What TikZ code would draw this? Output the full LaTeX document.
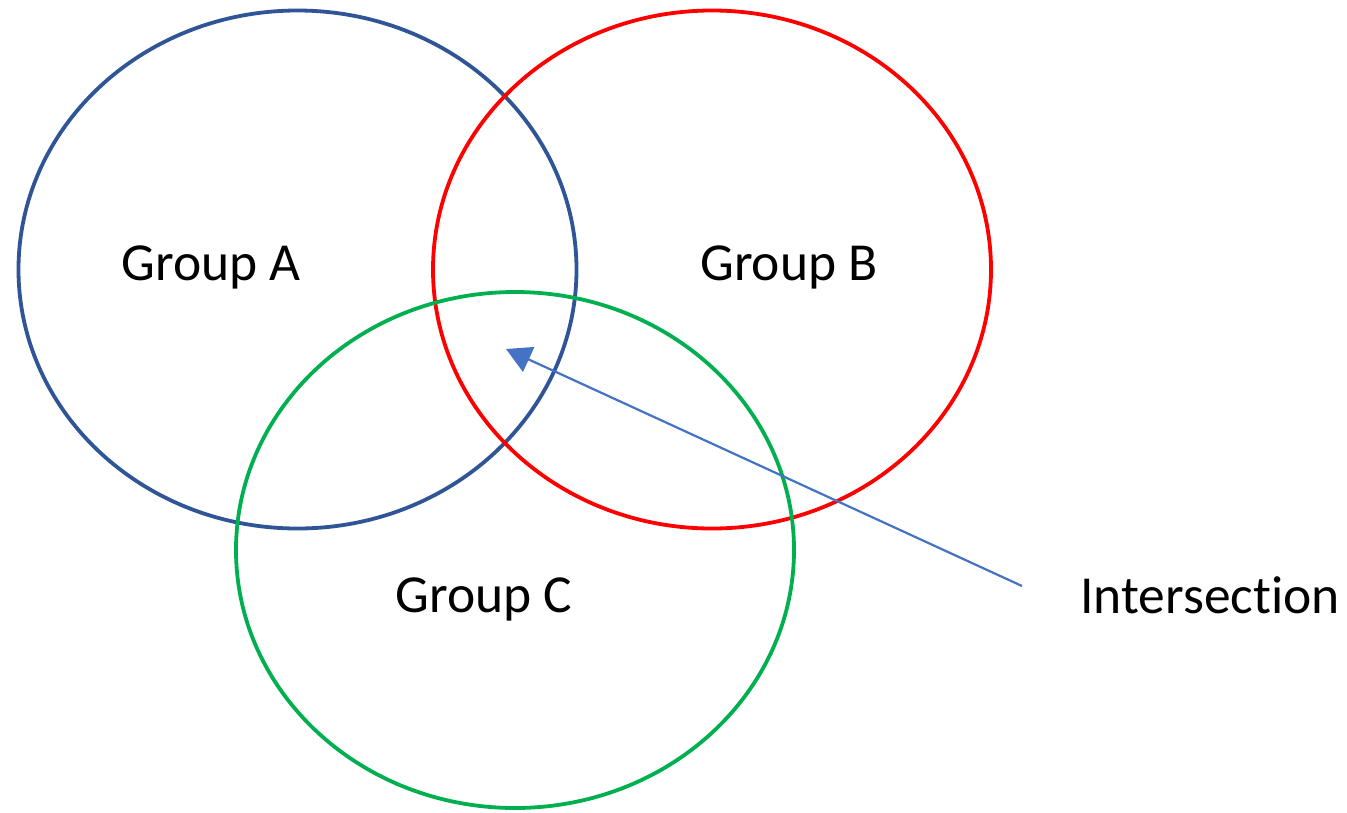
\documentclass[tikz,border=0pt]{standalone}
\usepackage{fontspec}
\setmainfont{Carlito}[RawFeature={-liga;-clig;-calt;-dlig}]
\usetikzlibrary{arrows.meta,shapes.geometric}
\definecolor{cblue}{HTML}{2F5597}
\definecolor{cred}{HTML}{FF0000}
\definecolor{cgreen}{HTML}{00B050}
\definecolor{carrow}{HTML}{4472C4}
\tikzset{
  setring/.style={ellipse, draw, line width=3.8pt, inner sep=0pt, minimum width=558pt, minimum height=518pt},
  lbl/.style={anchor=base, inner sep=0pt, font=\fontsize{53.5}{60}\selectfont},
  pointer/.style={draw=carrow, line width=2.2pt, -{Triangle[length=25pt,width=27pt]}}
}
\begin{document}
\begin{tikzpicture}[x=1pt,y=-1pt]
\useasboundingbox[fill=white] (0,0) rectangle (1347,812);
\node[setring, draw=cblue] (A) at (297.5,269.5) {};
\node[setring, draw=cred] (B) at (712,269.5) {};
\node[setring, draw=cgreen, minimum height=516pt] (C) at (515,550) {};
\node[lbl] (la) at (211,280) {Group A};
\node[lbl] (lb) at (789,280) {Group B};
\node[lbl] (lc) at (484,612) {Group C};
\node[lbl] (li) at (1210,613) {Intersect\kern0pt ion};
\coordinate (tail) at (1022,586);
\coordinate (tip) at (506,349);
\draw[pointer] (tail) -- (tip);
\end{tikzpicture}
\end{document}
